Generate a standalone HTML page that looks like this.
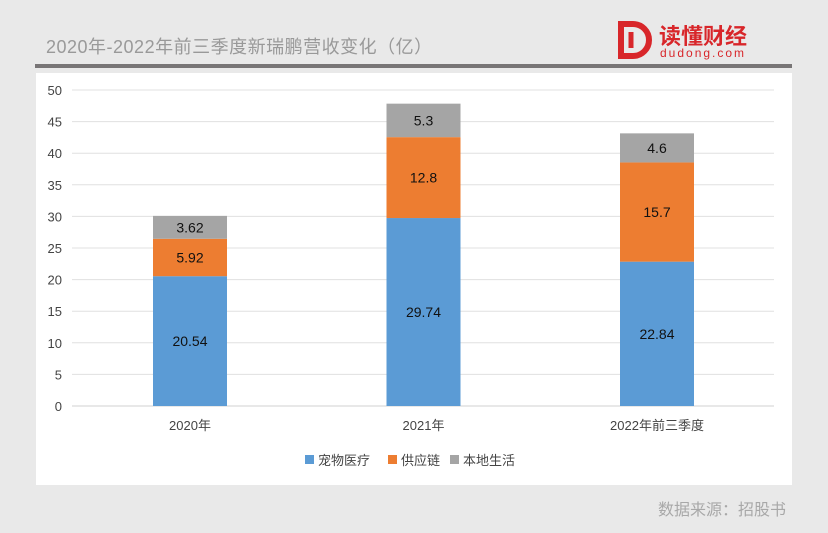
<!DOCTYPE html>
<html><head><meta charset="utf-8"><style>
body{margin:0;width:828px;height:533px;background:#e9e9e9;overflow:hidden;font-family:"Liberation Sans","Noto Sans CJK SC",sans-serif;position:relative}
.abs{position:absolute}
</style></head><body>
<div class="abs" style="left:46px;top:33px;font-size:18px;color:#999;letter-spacing:0.5px">2020年-2022年前三季度新瑞鹏营收变化（亿）</div>
<div class="abs" style="left:615px;top:18px;width:150px;height:44px">
<svg width="40" height="42" style="position:absolute;left:0;top:0"><path d="M6 6 H18 A16 16 0 0 1 18 38 H6 Z" fill="none" stroke="#d8262a" stroke-width="6"/><path d="M16 14 V30" stroke="#d8262a" stroke-width="5"/></svg>
<div class="abs" style="left:44px;top:1px;font-size:22px;font-weight:bold;color:#d8262a;white-space:nowrap">读懂财经</div>
<div class="abs" style="left:45px;top:28px;font-size:12px;color:#d8262a;letter-spacing:2px">dudong.com</div>
</div>
<div class="abs" style="left:35px;top:64px;width:757px;height:4px;background:#787576"></div>
<div class="abs" style="left:36px;top:73px;width:756px;height:412px;background:#fff"></div>
<svg class="abs" style="left:0;top:0" width="828" height="533" id="chart"></svg>
<div class="abs" style="right:42px;top:496px;font-size:16px;color:#a8a8a8">数据来源：招股书</div>
<script>
const categories=["2020年","2021年","2022年前三季度"];
const petMedical=[20.54,29.74,22.84];
const supplyChain=[5.92,12.8,15.7];
const localLife=[3.62,5.3,4.6];
const yTicks=[0,5,10,15,20,25,30,35,40,45,50];
const seriesNames=["宠物医疗","供应链","本地生活"];
const colors=["#5b9bd5","#ed7d31","#a5a5a5"];
const NS="http://www.w3.org/2000/svg";
const svg=document.getElementById('chart');
const y=v=>406-v*6.32;
const x=i=>190+i*233.5;
function mk(t,a){const e=document.createElementNS(NS,t);for(const k in a)e.setAttribute(k,a[k]);svg.appendChild(e);return e;}
yTicks.forEach(t=>{
 const l=mk('line',{x1:72,x2:774,y1:y(t),y2:y(t),stroke:t===0?'#d0d0d0':'#e0e0e0','stroke-width':1});
 
 
 const tx=mk('text',{x:62,y:y(t)+5,'text-anchor':'end','font-size':13,fill:'#444'});tx.textContent=t;
 
 
});
const data=[petMedical,supplyChain,localLife];
categories.forEach((c,i)=>{
 let base=0;
 data.forEach((s,k)=>{
  const v=s[i];
  const r=mk('rect',{x:x(i)-37,width:74,y:y(base+v),height:v*6.32,fill:colors[k]});
  
  
  const t=mk('text',{x:x(i),y:y(base+v/2)+5,'text-anchor':'middle','font-size':14,fill:'#111'});t.textContent=v;
  
  
  base+=v;
 });
 const t=mk('text',{x:x(i),y:430,'text-anchor':'middle','font-size':13,fill:'#444'});t.textContent=c;
 
 
});
const lx=[305,388,450];
seriesNames.forEach((n,k)=>{
 const r=mk('rect',{x:lx[k],y:455,width:9,height:9,fill:colors[k]});
 
 
 const t=mk('text',{x:lx[k]+13,y:465,'font-size':13,fill:'#444'});t.textContent=n;
 
 
});
</script>
</body></html>
